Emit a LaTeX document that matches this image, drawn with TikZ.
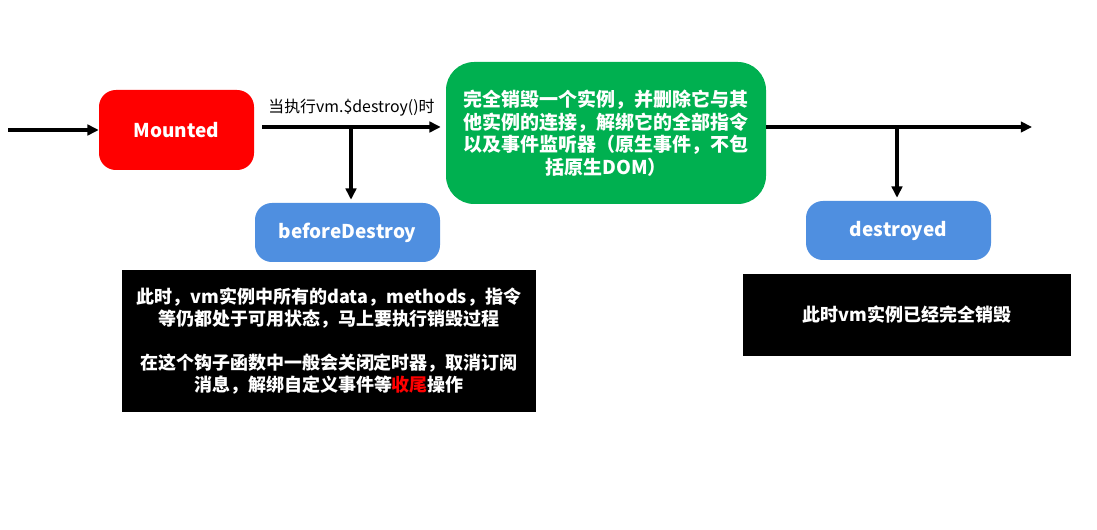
\documentclass[tikz,border=0pt]{standalone}
\usepackage{fontspec}
\setmainfont{Noto Sans CJK SC}
\usepackage{tikz}
\usetikzlibrary{arrows.meta,positioning,calc}

\definecolor{mred}{HTML}{FF0000}
\definecolor{mgreen}{HTML}{00B050}
\definecolor{mblue}{HTML}{4F8FE0}

\tikzset{
  box/.style={rounded corners=12, text=white, font=\bfseries\fontsize{13.5}{16}\selectfont, align=center, inner sep=0pt},
  note/.style={fill=black, text=white, font=\bfseries\fontsize{12.8}{15.5}\selectfont, align=center, inner sep=0pt},
  arr/.style={line width=2.3pt, -{Triangle[length=8pt,width=7.5pt]}}
}

\begin{document}
\begin{tikzpicture}[x=0.025cm,y=-0.025cm]
  \useasboundingbox (0,0) rectangle (1097,530);
  % boxes
  \node[box, fill=mred, minimum width=155*0.025cm, minimum height=80*0.025cm] (mounted) at (176.5,130) {Mounted};
  \node[box, fill=mblue, minimum width=185*0.025cm, minimum height=59*0.025cm] (before) at (347.5,232.5) {beforeDestroy};
  \node[box, fill=mgreen, rounded corners=20, minimum width=320*0.025cm, minimum height=142*0.025cm] (green) at (606,133) {完全销毁一个实例，并删除它与其\\他实例的连接，解绑它的全部指令\\以及事件监听器（原生事件，不包\\括原生DOM）};
  \node[box, fill=mblue, minimum width=185*0.025cm, minimum height=59*0.025cm] (destroyed) at (898.5,230.5) {destroyed};
  % notes
  \node[note, minimum width=414*0.025cm, minimum height=142*0.025cm] (notea) at (329,341) {此时，vm实例中所有的data，methods，指令\\等仍都处于可用状态，马上要执行销毁过程\\[15.5pt]在这个钩子函数中一般会关闭定时器，取消订阅\\消息，解绑自定义事件等\textcolor{mred}{收尾}操作};
  \node[note, minimum width=328*0.025cm, minimum height=82*0.025cm] (noteb) at (907,315) {此时vm实例已经完全销毁};
  % arrows
  \coordinate (start) at (8,130);
  \coordinate (stop) at (1032,127);
  \coordinate (splita) at (351,127);
  \coordinate (splitb) at (897,127);
  \draw[arr] (start) -- (mounted.west);
  \draw[arr] ([shift={(8,-3)}]mounted.east) -- ([shift={(-5,-6)}]green.west)
    node[midway, above=3pt, font=\fontsize{11.3}{13}\selectfont] {当执行vm.\$destroy()时};
  \draw[arr] (splita) -- ([shift={(0,-3)}]splita |- before.north);
  \draw[arr] ([shift={(0,-6)}]green.east) -- (stop);
  \draw[arr] (splitb) -- ([shift={(0,-3)}]splitb |- destroyed.north);
\end{tikzpicture}
\end{document}
